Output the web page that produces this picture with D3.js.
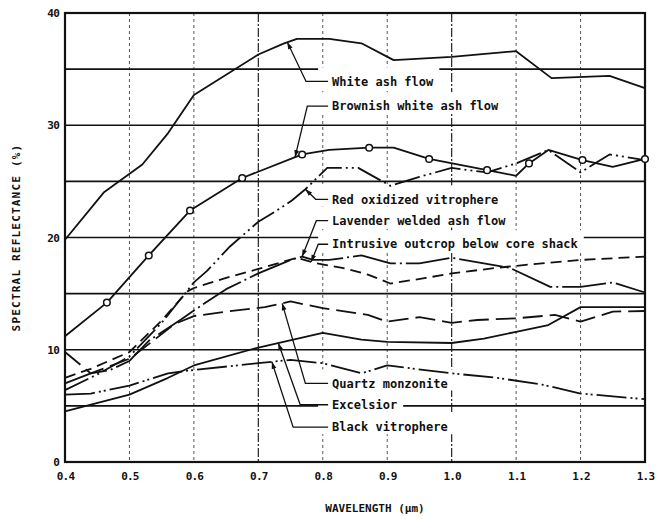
<!DOCTYPE html>
<html><head><meta charset="utf-8">
<script src="https://cdn.jsdelivr.net/npm/d3@7"></script>
<style>html,body{margin:0;padding:0;background:#fff;} svg{display:block;}</style>
</head><body>
<svg id="chart" width="660" height="519"></svg>
<script>
// Spectral reflectance (%) against wavelength (µm); one [wavelength, reflectance] array per sample
const whiteAshFlow = [[0.40,19.8],[0.46,24.0],[0.52,26.5],[0.56,29.3],[0.60,32.7],[0.70,36.3],[0.74,37.3],[0.76,37.7],[0.81,37.7],[0.86,37.3],[0.91,35.8],[1.00,36.1],[1.10,36.6],[1.155,34.2],[1.245,34.4],[1.30,33.3]];
const brownishWhiteAshFlow = [[0.40,11.2],[0.465,14.2],[0.53,18.4],[0.594,22.4],[0.675,25.3],[0.768,27.4],[0.81,27.8],[0.872,28.0],[0.91,28.0],[0.965,27.0],[1.055,26.0],[1.10,25.5],[1.12,26.6],[1.15,27.8],[1.203,26.9],[1.25,26.3],[1.30,27.0]];
const brownishMarkers = [0.465,0.53,0.594,0.675,0.768,0.872,0.965,1.055,1.12,1.203,1.30];
const redOxidizedVitrophere = [[0.40,6.4],[0.45,7.8],[0.50,9.4],[0.55,12.4],[0.60,16.0],[0.62,17.0],[0.656,19.2],[0.70,21.4],[0.726,22.3],[0.752,23.3],[0.773,24.3],[0.807,26.2],[0.855,26.2],[0.905,24.6],[0.95,25.4],[1.00,26.2],[1.055,25.8],[1.10,26.6],[1.15,27.8],[1.20,25.8],[1.245,27.4],[1.30,26.9]];
const lavenderWeldedAshFlow = [[0.40,7.0],[0.44,7.9],[0.47,8.2],[0.50,9.0],[0.53,10.8],[0.58,12.7],[0.60,13.5],[0.65,15.4],[0.70,16.8],[0.75,18.0],[0.768,18.3],[0.785,18.0],[0.81,18.0],[0.86,18.4],[0.905,17.7],[0.95,17.7],[1.00,18.2],[1.09,17.3],[1.153,15.6],[1.20,15.6],[1.25,16.0],[1.30,15.1]];
const intrusiveOutcrop = [[0.40,7.5],[0.44,8.3],[0.50,9.8],[0.55,12.6],[0.59,15.2],[0.60,15.5],[0.65,16.4],[0.70,17.2],[0.76,18.2],[0.79,17.7],[0.83,17.3],[0.87,16.7],[0.905,15.9],[0.96,16.4],[1.00,16.8],[1.07,17.3],[1.14,17.7],[1.20,18.0],[1.30,18.3]];
const quartzMonzonite = [[0.40,9.8],[0.44,7.9],[0.50,9.2],[0.53,10.5],[0.57,12.3],[0.60,13.0],[0.65,13.4],[0.71,13.8],[0.75,14.3],[0.80,13.7],[0.87,13.1],[0.90,12.5],[0.95,12.9],[1.00,12.4],[1.04,12.65],[1.10,12.8],[1.16,13.1],[1.20,12.5],[1.25,13.4],[1.30,13.45]];
const excelsior = [[0.40,4.5],[0.50,6.0],[0.56,7.5],[0.60,8.6],[0.70,10.2],[0.80,11.5],[0.86,10.9],[0.90,10.7],[1.00,10.6],[1.05,11.0],[1.10,11.6],[1.15,12.2],[1.20,13.8],[1.30,13.8]];
const blackVitrophere = [[0.40,6.0],[0.44,6.1],[0.50,6.8],[0.56,7.9],[0.60,8.2],[0.70,8.8],[0.75,9.1],[0.80,8.8],[0.86,7.9],[0.90,8.6],[1.00,7.9],[1.07,7.5],[1.14,6.9],[1.20,6.1],[1.30,5.6]];

const sampleNames = ["White ash flow","Brownish white ash flow","Red oxidized vitrophere","Lavender welded ash flow","Intrusive outcrop below core shack","Quartz monzonite","Excelsior","Black vitrophere"];
const sampleSeries = [whiteAshFlow, brownishWhiteAshFlow, redOxidizedVitrophere, lavenderWeldedAshFlow, intrusiveOutcrop, quartzMonzonite, excelsior, blackVitrophere];

const xTicks = [0.4,0.5,0.6,0.7,0.8,0.9,1.0,1.1,1.2,1.3];
const yTicks = [0,10,20,30,40];
const yGrid = [5,10,15,20,25,30,35];

// line patterns, one per sample, in sampleNames order
const dashPatterns = [null, null, "26,4,2,4,2,4", "44,4,2,4", "11,6", "20,7", null, "30,4,2,3,2,4"];

// callout layout: where each arrow touches its curve, where it bends, and the label row (data units)
const callouts = [
  {tipW:0.745, elbowW:0.774, rowV:33.9},
  {tipW:0.757, elbowW:0.776, rowV:31.7},
  {tipW:0.773, elbowW:0.789, rowV:23.4},
  {tipW:0.768, elbowW:0.790, rowV:21.5},
  {tipW:0.782, elbowW:0.793, rowV:19.4},
  {tipW:0.737, elbowW:0.773, rowV:7.0},
  {tipW:0.731, elbowW:0.765, rowV:5.1},
  {tipW:0.721, elbowW:0.754, rowV:3.1}
];
const labelW = 0.8145;

const svg = d3.select("#chart");
const margin = {left:65, right:15, top:13, bottom:57};
const W = 660, H = 519;
const x = d3.scaleLinear().domain([0.4,1.3]).range([margin.left, W - margin.right]);
const y = d3.scaleLinear().domain([0,40]).range([H - margin.bottom, margin.top]);

const ink = "#111";
const monoFont = "'DejaVu Sans Mono', 'Liberation Mono', monospace";

// vertical grid
const vg = svg.append("g");
xTicks.slice(1, -1).forEach(t => {
  const strong = (Math.abs(t-0.7)<1e-6 || Math.abs(t-1.0)<1e-6);
  vg.append("line")
    .attr("x1", x(t)).attr("x2", x(t))
    .attr("y1", y(40)).attr("y2", y(0))
    .attr("stroke", strong ? "#222" : "#555")
    .attr("stroke-width", strong ? 1.2 : 1)
    .attr("stroke-dasharray", strong ? "9,2,2,2" : "3,3");
});

// horizontal grid
const hg = svg.append("g");
yGrid.forEach(v => {
  hg.append("line")
    .attr("x1", x(0.4)).attr("x2", x(1.3))
    .attr("y1", y(v)).attr("y2", y(v))
    .attr("stroke", ink).attr("stroke-width", 1.6);
});

// label backgrounds sit above the grid so the grid breaks around the text
const labelBg = svg.append("g");

// frame
svg.append("rect")
  .attr("x", x(0.4)).attr("y", y(40))
  .attr("width", x(1.3) - x(0.4)).attr("height", y(0) - y(40))
  .attr("fill", "none").attr("stroke", ink).attr("stroke-width", 2.2);

// axes tick labels
const xAxis = d3.axisBottom(x).tickValues(xTicks).tickFormat(d3.format(".1f")).tickSize(0).tickPadding(10);
const gx = svg.append("g").attr("transform", `translate(0,${y(0)})`).call(xAxis);
gx.select(".domain").remove();
gx.selectAll("text").attr("font-family", monoFont).attr("font-weight", "bold")
  .attr("font-size", 11).attr("fill", ink).attr("letter-spacing", -0.8);

const yAxis = d3.axisLeft(y).tickValues(yTicks).tickFormat(d3.format("d")).tickSize(0).tickPadding(6);
const gy = svg.append("g").attr("transform", `translate(${x(0.4)},0)`).call(yAxis);
gy.select(".domain").remove();
gy.selectAll("text").attr("font-family", monoFont).attr("font-weight", "bold")
  .attr("font-size", 11).attr("fill", ink).attr("letter-spacing", -0.8);

// axis titles
svg.append("text")
  .attr("transform", `translate(20,${(y(0)+y(40))/2}) rotate(-90)`)
  .attr("text-anchor", "middle")
  .attr("font-family", monoFont).attr("font-weight", "bold").attr("font-size", 11)
  .attr("letter-spacing", 1.2).attr("fill", ink)
  .text("SPECTRAL REFLECTANCE (%)");
svg.append("text")
  .attr("x", (x(0.4)+x(1.3))/2 + 20).attr("y", 512)
  .attr("text-anchor", "middle")
  .attr("font-family", monoFont).attr("font-weight", "bold").attr("font-size", 11)
  .attr("fill", ink)
  .text("WAVELENGTH (µm)");

// curves
const line = d3.line().x(d => x(d[0])).y(d => y(d[1]));
const curves = svg.append("g");
sampleSeries.forEach((s, i) => {
  curves.append("path")
    .datum(s)
    .attr("d", line)
    .attr("fill", "none")
    .attr("stroke", ink)
    .attr("stroke-width", 1.8)
    .attr("stroke-linejoin", "round")
    .attr("stroke-dasharray", dashPatterns[i]);
});

// open circle markers on the brownish white ash flow curve
curves.selectAll("circle.mk")
  .data(brownishWhiteAshFlow.filter(d => brownishMarkers.includes(d[0])))
  .join("circle")
  .attr("class", "mk")
  .attr("cx", d => x(d[0])).attr("cy", d => y(d[1]))
  .attr("r", 3.3)
  .attr("fill", "#fff").attr("stroke", ink).attr("stroke-width", 1.5);

// value on a curve at a given wavelength
function valueAt(series, w) {
  for (let k = 0; k < series.length - 1; k++) {
    const a = series[k], b = series[k+1];
    if (w >= a[0] && w <= b[0]) return a[1] + (b[1]-a[1]) * (w - a[0]) / (b[0]-a[0]);
  }
  return series[series.length-1][1];
}

// callout labels with leader arrows
const lbl = svg.append("g");
sampleNames.forEach((name, i) => {
  const c = callouts[i];
  const ty = y(c.rowV);
  const tx = x(labelW);
  const t = lbl.append("text")
    .attr("x", tx).attr("y", ty).attr("dy", "0.35em")
    .attr("font-family", monoFont).attr("font-weight", "bold")
    .attr("font-size", 12).attr("fill", ink)
    .text(name);
  const len = t.node().getComputedTextLength();
  labelBg.append("rect")
    .attr("x", tx - 14).attr("y", ty - 14)
    .attr("width", len + 20).attr("height", 21)
    .attr("fill", "#fff");

  const px = x(c.tipW), py = y(valueAt(sampleSeries[i], c.tipW));
  const ex = x(c.elbowW);
  lbl.append("path")
    .attr("d", `M${px},${py}L${ex},${ty}L${tx - 4},${ty}`)
    .attr("fill", "none").attr("stroke", ink).attr("stroke-width", 1.3);
  const a = Math.atan2(py - ty, px - ex);
  const L = 7, hw = 2.4;
  const bx = px - L*Math.cos(a), by = py - L*Math.sin(a);
  lbl.append("path")
    .attr("d", `M${px},${py}L${bx - hw*Math.sin(a)},${by + hw*Math.cos(a)}L${bx + hw*Math.sin(a)},${by - hw*Math.cos(a)}Z`)
    .attr("fill", ink);
});
</script>
</body></html>
